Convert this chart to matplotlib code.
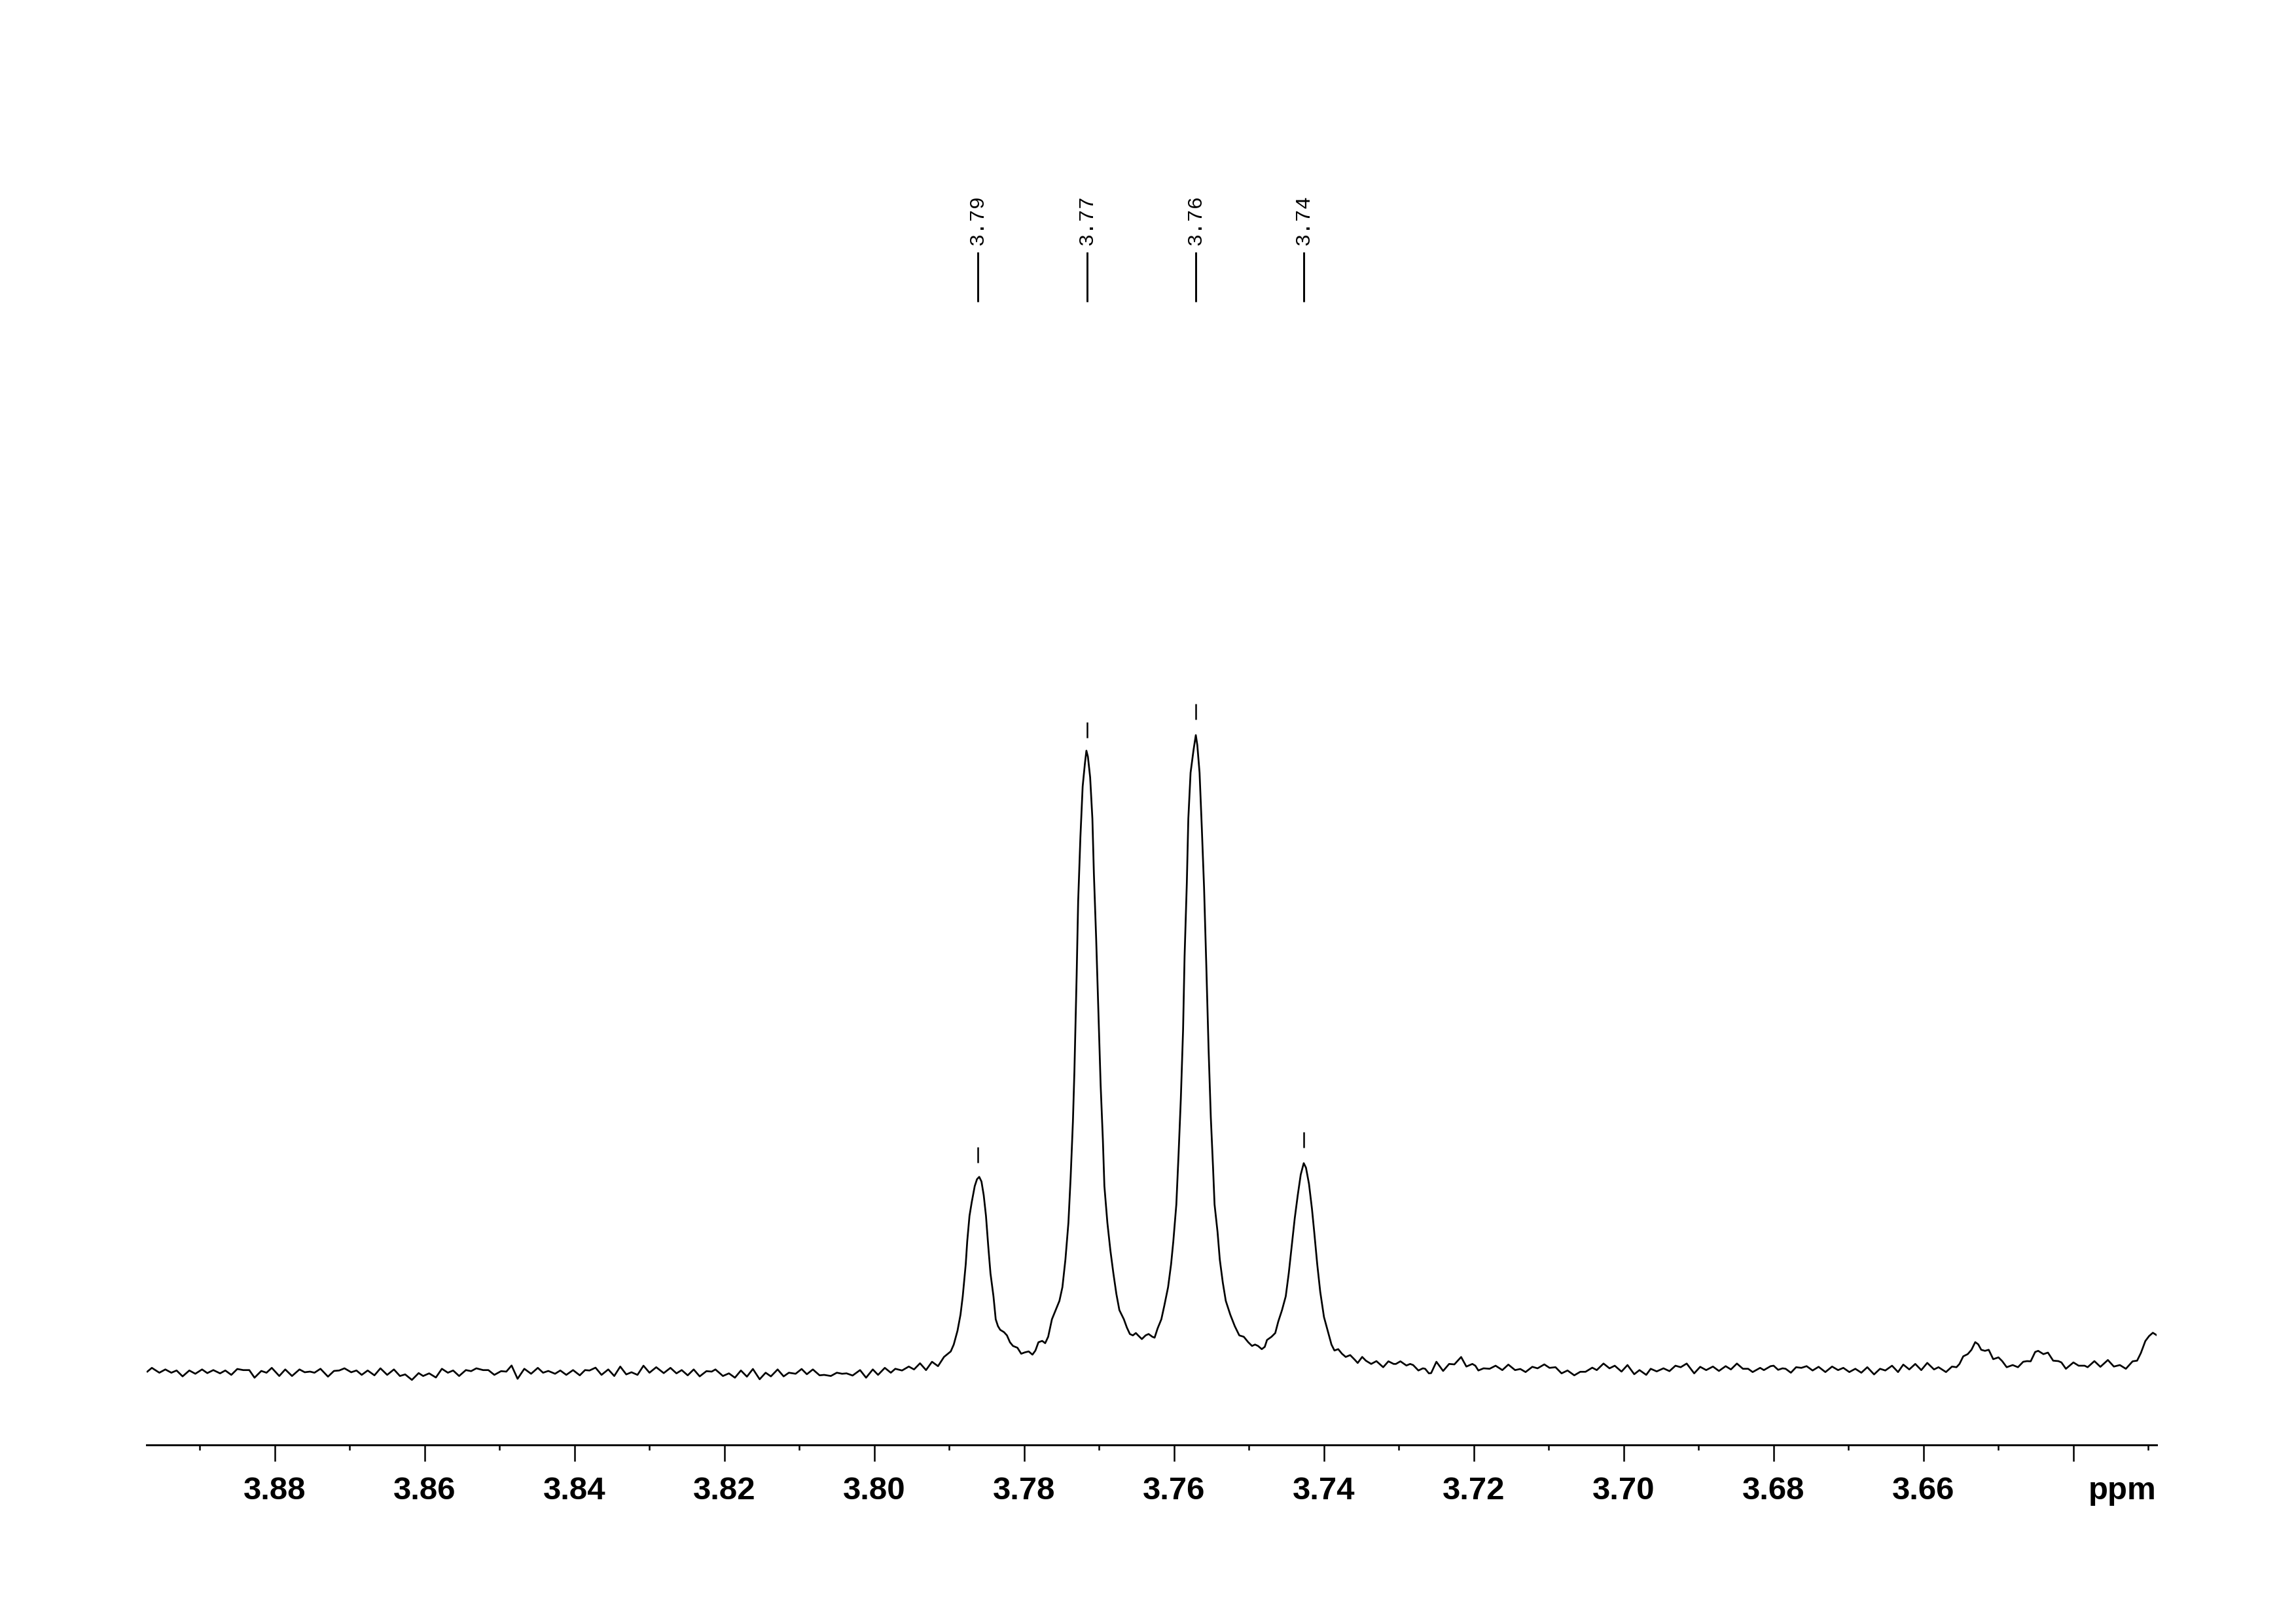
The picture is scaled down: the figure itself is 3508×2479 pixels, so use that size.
import numpy as np
import matplotlib
matplotlib.use("Agg")
import matplotlib.pyplot as plt
import matplotlib.transforms as mtransforms

# ---------------- data ----------------
# chemical shift (ppm) and intensity (arbitrary units) of the traced 1H spectrum
ppm_a = [3.8970, 3.8964, 3.8954, 3.8946, 3.8938, 3.8931, 3.8923, 3.8914, 3.8906, 3.8897,
         3.8890, 3.8882, 3.8873, 3.8866, 3.8858, 3.8850, 3.8842, 3.8834, 3.8827, 3.8818,
         3.8811, 3.8804, 3.8794, 3.8786, 3.8777, 3.8767, 3.8760, 3.8753, 3.8747, 3.8739,
         3.8729, 3.8721, 3.8714, 3.8707, 3.8698, 3.8691, 3.8684, 3.8676, 3.8667, 3.8659,
         3.8650, 3.8641, 3.8633, 3.8626, 3.8617, 3.8608, 3.8602, 3.8594, 3.8585, 3.8577,
         3.8569, 3.8562, 3.8554, 3.8545, 3.8538, 3.8531, 3.8522, 3.8515, 3.8507, 3.8498,
         3.8491, 3.8484, 3.8476, 3.8467, 3.8458, 3.8449, 3.8442]
int_a = [-1.7, 4.0, -3.4, 1.6, -3.4, 0.0, -9.0, 0.0, -5.0, 1.6,
         -4.0, 0.6, -4.4, 0.0, -6.7, 2.3, 0.6, 0.6, -11.0, -0.7,
         -3.4, 4.0, -8.4, 1.6, -8.4, 1.6, -2.7, -1.7, -3.4, 2.6,
         -9.4, -0.7, 0.0, 3.3, -2.7, 0.0, -6.7, 0.0, -7.4, 3.3,
         -6.7, 1.6, -8.4, -6.0, -14.4, -4.0, -8.4, -4.4, -10.7, 2.6,
         -3.4, 0.0, -8.4, 0.6, -1.0, 3.3, 0.6, 0.6, -6.7, -1.0,
         -1.7, 7.6, -12.7, 2.6, -5.0, 4.0, -3.4]

ppm_b = [3.8435, 3.8426, 3.8419, 3.8411, 3.8402, 3.8393, 3.8386, 3.8380, 3.8372, 3.8364,
         3.8355, 3.8347, 3.8339, 3.8331, 3.8324, 3.8316, 3.8308, 3.8300, 3.8291, 3.8281,
         3.8272, 3.8264, 3.8257, 3.8249, 3.8241, 3.8233, 3.8224, 3.8217, 3.8212, 3.8202,
         3.8194, 3.8186, 3.8178, 3.8170, 3.8162, 3.8153, 3.8145, 3.8138, 3.8129, 3.8121,
         3.8114, 3.8105, 3.8097, 3.8090, 3.8082, 3.8073, 3.8067, 3.8058, 3.8050, 3.8043,
         3.8037, 3.8029, 3.8019, 3.8011, 3.8002, 3.7995, 3.7986, 3.7978, 3.7972, 3.7963,
         3.7954, 3.7947, 3.7939, 3.7931, 3.7923, 3.7915, 3.7909]
int_b = [-0.7, -5.0, 0.0, -6.7, 0.6, -7.4, 0.6, 0.0, 4.3, -6.7,
         1.6, -8.4, 6.0, -6.0, -2.7, -6.7, 7.3, -3.4, 5.0, -4.0,
         4.0, -4.4, 0.6, -7.4, 1.6, -9.0, -1.0, -1.7, 1.6, -8.4,
         -4.4, -11.0, 0.0, -9.4, 2.3, -13.4, -3.4, -9.0, 1.6, -9.0,
         -3.4, -5.0, 2.3, -5.7, 1.6, -7.4, -6.7, -8.4, -3.4, -5.0,
         -4.4, -7.7, 0.6, -11.0, 1.6, -6.7, 4.0, -3.4, 2.6, 0.0,
         6.0, 1.6, 11.0, 0.6, 13.3, 6.6, 17.3]

ppm_c = [3.7907, 3.7898, 3.7894, 3.7889, 3.7885, 3.7882, 3.7878, 3.7876, 3.7873, 3.7870,
         3.7866, 3.7863, 3.7860, 3.7857, 3.7854, 3.7851, 3.7848, 3.7845, 3.7841, 3.7838,
         3.7835, 3.7832, 3.7827, 3.7823, 3.7819, 3.7815, 3.7809, 3.7804, 3.7799, 3.7794,
         3.7789, 3.7785, 3.7781, 3.7776, 3.7772, 3.7768, 3.7763, 3.7758, 3.7753, 3.7749,
         3.7745, 3.7741, 3.7738, 3.7735, 3.7733, 3.7730, 3.7728, 3.7725, 3.7722, 3.7719,
         3.7717, 3.7715, 3.7712, 3.7709, 3.7707, 3.7704, 3.7701, 3.7698, 3.7695, 3.7693,
         3.7689, 3.7685, 3.7681, 3.7677, 3.7673, 3.7667, 3.7663, 3.7659, 3.7655, 3.7651,
         3.7648, 3.7643, 3.7638, 3.7634, 3.7629, 3.7626, 3.7622, 3.7617, 3.7613, 3.7608,
         3.7604, 3.7601, 3.7597, 3.7594, 3.7591, 3.7588, 3.7586, 3.7583, 3.7581, 3.7578,
         3.7574, 3.7571, 3.7569, 3.7566, 3.7563, 3.7560, 3.7557, 3.7554, 3.7551, 3.7548,
         3.7546, 3.7542, 3.7539, 3.7535, 3.7531, 3.7525, 3.7519, 3.7513, 3.7507, 3.7501,
         3.7496, 3.7492, 3.7488, 3.7483, 3.7479, 3.7476, 3.7470, 3.7465, 3.7461, 3.7456,
         3.7451, 3.7447, 3.7443, 3.7439, 3.7435, 3.7431, 3.7427, 3.7424, 3.7420, 3.7416,
         3.7413, 3.7409, 3.7405, 3.7400, 3.7395, 3.7390, 3.7386, 3.7381, 3.7376, 3.7371,
         3.7365, 3.7359, 3.7355, 3.7349, 3.7344]
int_c = [20.7, 29.1, 39.6, 60.7, 85.2, 113.3, 162.4, 197.5, 236.1, 257.1,
         281.6, 292.1, 295.7, 288.6, 267.6, 236.1, 190.4, 148.4, 113.3, 78.2,
         67.7, 62.1, 58.6, 53.6, 43.1, 37.5, 34.7, 25.6, 27.7, 29.1,
         24.2, 30.5, 43.1, 45.2, 41.7, 51.5, 78.2, 92.2, 106.3, 127.3,
         169.4, 225.6, 295.7, 379.8, 457.0, 604.3, 716.6, 814.8, 891.9, 927.0,
         946.7, 937.6, 906.0, 842.8, 758.7, 660.5, 548.2, 436.0, 351.8, 281.6,
         225.6, 183.4, 148.4, 116.8, 92.2, 78.2, 65.6, 55.7, 53.6, 57.2,
         53.6, 48.0, 53.6, 55.7, 51.5, 50.1, 64.2, 78.2, 99.2, 127.3,
         162.4, 197.5, 253.6, 330.7, 414.9, 520.2, 632.4, 744.6, 842.8, 913.0,
         948.1, 970.5, 955.1, 913.0, 828.8, 737.6, 618.4, 492.1, 386.9, 309.7,
         253.6, 211.5, 169.4, 134.3, 106.3, 85.2, 67.7, 53.6, 51.5, 43.1,
         37.5, 39.6, 37.5, 32.6, 36.1, 46.6, 51.5, 57.2, 74.7, 92.2,
         113.3, 148.4, 190.4, 232.5, 267.6, 299.2, 316.7, 309.7, 285.1, 246.6,
         211.5, 162.4, 120.3, 81.7, 60.7, 39.6, 30.5, 32.6, 25.6, 20.7,
         23.5, 16.5, 11.5, 20.7, 14.9]

ppm_d = [3.7337, 3.7330, 3.7321, 3.7314, 3.7307, 3.7304, 3.7298, 3.7290, 3.7285, 3.7281,
         3.7274, 3.7268, 3.7265, 3.7260, 3.7257, 3.7250, 3.7241, 3.7233, 3.7226, 3.7217,
         3.7210, 3.7202, 3.7198, 3.7194, 3.7187, 3.7179, 3.7171, 3.7162, 3.7154, 3.7145,
         3.7138, 3.7131, 3.7122, 3.7115, 3.7106, 3.7099, 3.7091, 3.7083, 3.7075, 3.7066,
         3.7058, 3.7051, 3.7042, 3.7036, 3.7027, 3.7019, 3.7012, 3.7003, 3.6995, 3.6986,
         3.6979, 3.6970, 3.6964, 3.6956, 3.6947, 3.6939, 3.6931, 3.6924, 3.6916, 3.6906,
         3.6898, 3.6890, 3.6881, 3.6873, 3.6864, 3.6857, 3.6849, 3.6841, 3.6834, 3.6828,
         3.6818, 3.6813]
int_d = [10.0, 14.3, 5.0, 14.0, 10.0, 10.0, 14.0, 7.6, 10.0, 8.3,
         0.0, 3.3, 2.6, -4.4, -4.0, 13.3, -0.7, 10.0, 9.3, 20.6,
         6.0, 10.0, 7.3, 0.0, 3.3, 2.6, 7.3, 0.6, 9.0, 0.6,
         2.3, -2.4, 5.6, 3.3, 9.3, 4.0, 5.0, -4.4, 0.0, -7.4,
         -2.0, -2.0, 4.3, 0.6, 10.6, 3.3, 7.3, -1.7, 8.3, -5.7,
         0.6, -6.7, 2.6, -1.4, 3.3, -1.0, 7.3, 5.0, 10.6, -4.4,
         5.6, 0.6, 6.0, -0.7, 6.6, 1.6, 10.6, 2.6, 2.6, -2.4,
         4.0, 0.6]

ppm_e = [3.6804, 3.6800, 3.6794, 3.6788, 3.6784, 3.6777, 3.6770, 3.6763, 3.6756, 3.6748,
         3.6740, 3.6731, 3.6722, 3.6714, 3.6707, 3.6699, 3.6691, 3.6683, 3.6675, 3.6666,
         3.6658, 3.6651, 3.6642, 3.6634, 3.6627, 3.6619, 3.6611, 3.6603, 3.6595, 3.6586,
         3.6580, 3.6570, 3.6562, 3.6556, 3.6552, 3.6547, 3.6541, 3.6536, 3.6531, 3.6527,
         3.6523, 3.6518, 3.6513, 3.6507, 3.6500, 3.6495, 3.6489, 3.6481, 3.6474, 3.6467,
         3.6462, 3.6457, 3.6451, 3.6447, 3.6440, 3.6434, 3.6427, 3.6420, 3.6416, 3.6410,
         3.6400, 3.6393, 3.6385, 3.6381, 3.6372, 3.6364, 3.6354, 3.6346, 3.6338, 3.6330,
         3.6321, 3.6315, 3.6310, 3.6304, 3.6299, 3.6294, 3.6289]
int_e = [6.6, 7.3, 1.0, 3.3, 2.6, -3.4, 5.0, 4.0, 6.6, 0.0,
         5.6, -2.4, 6.0, 0.6, 4.0, -2.4, 2.6, -3.4, 5.0, -6.0,
         2.6, 0.0, 7.3, -2.4, 9.0, 1.6, 10.0, 0.6, 11.6, 1.6,
         5.0, -2.4, 6.0, 5.0, 10.0, 21.6, 25.0, 31.6, 43.3, 40.0,
         31.6, 30.0, 31.6, 17.3, 20.0, 14.3, 5.0, 8.3, 5.0, 13.3,
         14.3, 14.0, 28.3, 30.0, 25.0, 27.3, 15.0, 14.3, 12.3, 2.6,
         12.3, 7.3, 7.3, 5.0, 14.3, 5.6, 16.0, 6.0, 8.3, 2.6,
         14.0, 15.0, 26.6, 45.0, 52.6, 57.6, 54.0]

# peak picking labels
peak_ppm = [3.7862, 3.7716, 3.7571, 3.7427]
peak_labels = ["3.79", "3.77", "3.76", "3.74"]

# axis ticks
major_ticks = [3.88, 3.86, 3.84, 3.82, 3.80, 3.78, 3.76, 3.74, 3.72, 3.70, 3.68, 3.66, 3.64]
major_labels = ["3.88", "3.86", "3.84", "3.82", "3.80", "3.78", "3.76", "3.74",
                "3.72", "3.70", "3.68", "3.66", ""]
minor_ticks = [3.89, 3.87, 3.85, 3.83, 3.81, 3.79, 3.77, 3.75, 3.73, 3.71, 3.69, 3.67, 3.65, 3.63]
x_range = (3.8971, 3.6289)
y_range = (-113.7, 2093.3)

# ---------------- assemble ----------------
ppm = np.concatenate([ppm_a, ppm_b, ppm_c, ppm_d, ppm_e])
inten = np.concatenate([int_a, int_b, int_c, int_d, int_e])

W, H = 3508, 2479
fig = plt.figure(figsize=(W / 300, H / 300), dpi=300)
ax = fig.add_axes([224 / W, (H - 2207) / H, (3295 - 224) / W, 2207 / H])

lw = 0.65
ax.plot(ppm, inten, color="black", lw=lw, solid_joinstyle="round")
ax.set_xlim(*x_range)
ax.set_ylim(*y_range)

# spines / ticks
for s in ("left", "right", "top"):
    ax.spines[s].set_visible(False)
ax.spines["bottom"].set_linewidth(0.7)
ax.set_yticks([])
ax.set_xticks(major_ticks)
ax.set_xticklabels(major_labels)
ax.set_xticks(minor_ticks, minor=True)
ax.tick_params(axis="x", which="major", direction="out", length=6.0, width=0.6, pad=5.6,
               labelsize=11.8, color="black")
ax.tick_params(axis="x", which="minor", direction="out", length=2.0, width=0.6)
for t in ax.get_xticklabels():
    t.set_fontfamily(["Liberation Sans", "DejaVu Sans"])
    t.set_fontweight("bold")

ax.annotate("ppm", xy=(1.0, 0.0), xycoords="axes fraction", xytext=(0, -(6.0 + 5.6)),
            textcoords="offset points", ha="right", va="top", fontsize=11.8,
            fontweight="bold", family=["Liberation Sans", "DejaVu Sans"])

# small markers just above each picked peak
order = np.argsort(ppm)
peak_h = np.interp(peak_ppm, ppm[order], inten[order])
ax.vlines(peak_ppm, peak_h + 24, peak_h + 48, color="black", lw=0.6)

# peak labels at the top
trans = mtransforms.blended_transform_factory(ax.transData, ax.transAxes)
ax.vlines(peak_ppm, 0.7911, 0.8256, transform=trans, color="black", lw=0.7)
for p, lab in zip(peak_ppm, peak_labels):
    ax.text(p, 0.8300, lab, transform=trans, rotation=90, ha="center", va="bottom",
            fontsize=7.7, family=["Liberation Mono", "DejaVu Sans Mono"], color="black")

fig.savefig("out.png", dpi=300)
